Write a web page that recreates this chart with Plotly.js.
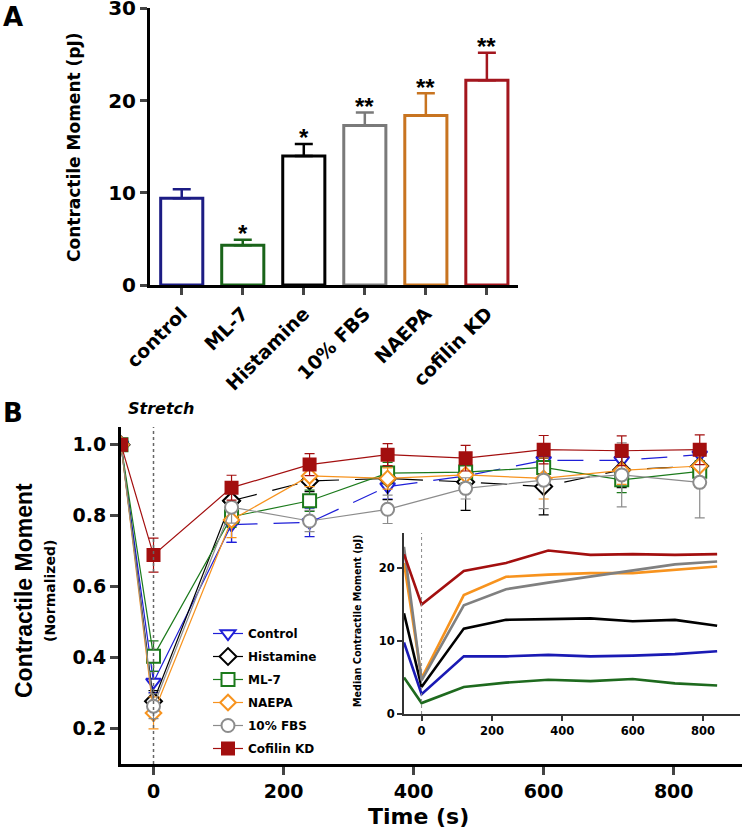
<!DOCTYPE html>
<html>
<head>
<meta charset="utf-8">
<script src="https://cdn.plot.ly/plotly-3.0.1.min.js"></script>
<style>
  html, body { margin: 0; padding: 0; background: #fff; }
  #chart { width: 742px; height: 835px; }
</style>
</head>
<body>
<div id="chart"></div>
<script>
// ---- Panel A: contractile moment per condition ----
const groupsA = ['control', 'ML-7', 'Histamine', '10% FBS', 'NAEPA', 'cofilin KD'];
const meansA = [9.4, 4.3, 14.0, 17.3, 18.4, 22.2];
const errA = [1.0, 0.6, 1.3, 1.4, 2.4, 3.0];
const starsA = ['', '*', '*', '**', '**', '**'];
const colorsA = ['#1c1c84', '#1a641a', '#000000', '#7a7a7a', '#c87420', '#a3161e'];

// ---- Panel B: normalized moment over time ----
const timesB = [-50, 0, 120, 240, 360, 480, 600, 720, 840];
const stretchTime = 0;
const namesB = ['Control', 'Histamine', 'ML-7', 'NAEPA', '10% FBS', 'Cofilin KD'];
const control = [1.0, 0.331, 0.775, 0.781, 0.882, 0.912, 0.956, 0.956, 0.972];
const controlErr = [0, 0.03, 0.05, 0.04, 0.035, 0.03, 0.03, 0.03, 0.03];
const histamine = [1.0, 0.277, 0.842, 0.898, 0.905, 0.895, 0.882, 0.929, 0.94];
const histamineErr = [0, 0.03, 0.04, 0.03, 0.06, 0.08, 0.08, 0.05, 0.04];
const ml7 = [1.0, 0.404, 0.797, 0.842, 0.92, 0.923, 0.936, 0.901, 0.925];
const ml7Err = [0, 0.043, 0.03, 0.03, 0.03, 0.03, 0.04, 0.036, 0.03];
const naepa = [1.0, 0.244, 0.788, 0.912, 0.905, 0.915, 0.905, 0.928, 0.94];
const naepaErr = [0, 0.045, 0.05, 0.03, 0.03, 0.03, 0.058, 0.04, 0.06];
const fbs = [1.0, 0.263, 0.824, 0.785, 0.818, 0.877, 0.90, 0.915, 0.894];
const fbsErr = [0, 0.035, 0.045, 0.03, 0.04, 0.03, 0.08, 0.09, 0.10];
const cofilin = [1.0, 0.689, 0.879, 0.944, 0.972, 0.962, 0.986, 0.983, 0.986];
const cofilinErr = [0, 0.048, 0.035, 0.031, 0.031, 0.036, 0.04, 0.042, 0.042];

// ---- Inset: median contractile moment (pJ) ----
const insetControl = [9.8, 2.7, 7.9, 7.9, 8.1, 7.9, 8.0, 8.2, 8.6];
const insetHistamine = [13.8, 3.7, 11.7, 12.9, 13.0, 13.1, 12.7, 12.9, 12.1];
const insetMl7 = [5.0, 1.5, 3.7, 4.3, 4.7, 4.5, 4.8, 4.2, 3.9];
const insetNaepa = [20.7, 4.9, 16.3, 18.8, 19.1, 19.3, 19.3, 19.7, 20.2];
const insetFbs = [22.9, 4.6, 14.9, 17.1, 18.0, 18.8, 19.7, 20.5, 20.9];
const insetCofilin = [21.9, 15.0, 19.6, 20.7, 22.4, 21.8, 21.9, 21.8, 21.9];

const W = 742, H = 835;
const px = v => v / W;
const py = v => 1 - v / H;
const FONT = 'DejaVu Sans, Verdana, sans-serif';
const FONT_NARROW = 'Liberation Sans, Arial, sans-serif';

const seriesB = [
  { y: control, err: controlErr, inset: insetControl, color: '#1f1fd8', lineInset: '#1a1ab4', symbol: 'triangle-down', fill: 'white', size: 13, dashed: true },
  { y: histamine, err: histamineErr, inset: insetHistamine, color: '#000000', lineInset: '#000000', symbol: 'diamond', fill: 'white', size: 13, dashed: true },
  { y: ml7, err: ml7Err, inset: insetMl7, color: '#1b7a1b', lineInset: '#1e6a1e', symbol: 'square', fill: 'white', size: 13, dashed: false },
  { y: naepa, err: naepaErr, inset: insetNaepa, color: '#f7931e', lineInset: '#f7931e', symbol: 'diamond', fill: 'white', size: 12, dashed: false },
  { y: fbs, err: fbsErr, inset: insetFbs, color: '#8c8c8c', lineInset: '#808080', symbol: 'circle', fill: 'white', size: 13, dashed: false },
  { y: cofilin, err: cofilinErr, inset: insetCofilin, color: '#a30f0f', lineInset: '#a30f0f', symbol: 'square', fill: '#a30f0f', size: 12, dashed: false }
];

const traces = [];

// panel A bars, one trace each so every error bar gets its colour
groupsA.forEach((g, i) => {
  traces.push({
    type: 'bar', x: [g], y: [meansA[i]], xaxis: 'x', yaxis: 'y',
    width: 0.69, showlegend: false, hoverinfo: 'x+y',
    marker: { color: 'white', line: { color: colorsA[i], width: 3 } },
    error_y: { type: 'data', symmetric: false, array: [errA[i]], arrayminus: [0],
               color: colorsA[i], thickness: 2.5, width: 9 }
  });
});

// inset lines
seriesB.forEach((s, i) => {
  traces.push({
    type: 'scatter', mode: 'lines', x: timesB, y: s.inset, xaxis: 'x3', yaxis: 'y3',
    line: { color: s.lineInset, width: 2.6 }, showlegend: false, hoverinfo: 'y'
  });
});

// panel B series
seriesB.forEach((s, i) => {
  const solidEnd = s.dashed ? 3 : timesB.length;
  const marker = { symbol: s.symbol, size: s.size, color: s.fill, line: { color: s.color, width: 2 } };
  traces.push({
    type: 'scatter', mode: 'lines+markers', name: namesB[i], legendgroup: namesB[i],
    x: timesB.slice(0, solidEnd), y: s.y.slice(0, solidEnd), xaxis: 'x2', yaxis: 'y2',
    line: { color: s.color, width: 1.2 }, marker: marker,
    error_y: { type: 'data', array: s.err.slice(0, solidEnd), color: s.color, thickness: 1.2, width: 5 }
  });
  if (s.dashed) {
    traces.push({
      type: 'scatter', mode: 'lines+markers', name: namesB[i], legendgroup: namesB[i], showlegend: false,
      x: timesB.slice(2), y: s.y.slice(2), xaxis: 'x2', yaxis: 'y2',
      line: { color: s.color, width: 1.2, dash: '26px,16px' }, marker: marker,
      error_y: { type: 'data', array: s.err.slice(2), color: s.color, thickness: 1.2, width: 5 }
    });
  }
});

const boldTick = size => ({ family: FONT, size: size, color: '#000', weight: 'bold' });

const annotations = [
  { text: 'A', x: px(1), y: py(17), xanchor: 'left', font: { family: FONT, size: 26, weight: 'bold' } },
  { text: 'B', x: px(1), y: py(413), xanchor: 'left', font: { family: FONT, size: 26, weight: 'bold' } },
  { text: 'Stretch', x: px(161), y: py(408), font: { family: FONT, size: 16, weight: 'bold', style: 'italic' } },
  { text: 'Contractile Moment (pJ)', x: px(74), y: py(147), textangle: -90, font: { family: FONT, size: 17, weight: 'bold' } },
  { text: 'Contractile Moment', x: px(24), y: py(591), textangle: -90, font: { family: FONT_NARROW, size: 23, weight: 'bold' } },
  { text: '(Normalized)', x: px(50), y: py(591), textangle: -90, font: { family: FONT, size: 14, weight: 'bold' } },
  { text: 'Time (s)', x: px(418), y: py(816), font: { family: FONT, size: 22, weight: 'bold' } },
  { text: 'Median Contractile Moment (pJ)', x: px(357), y: py(621), textangle: -90, font: { family: FONT, size: 9.6, weight: 'bold' } }
].map(a => Object.assign({ xref: 'paper', yref: 'paper', showarrow: false, yanchor: 'middle', xanchor: 'center' }, a));

groupsA.forEach((g, i) => {
  if (!starsA[i]) return;
  annotations.push({
    text: starsA[i], xref: 'x', yref: 'y', x: g, y: meansA[i] + errA[i],
    yanchor: 'middle', yshift: 6, showarrow: false,
    font: { family: FONT_NARROW, size: 24, weight: 'bold' }
  });
});

const axisBase = { showgrid: false, zeroline: false, ticklabeloverflow: 'allow', ticks: 'outside', showline: true };

const layout = {
  width: W, height: H,
  margin: { l: 0, r: 0, t: 0, b: 0 },
  paper_bgcolor: 'white', plot_bgcolor: 'rgba(0,0,0,0)',
  font: { family: FONT, color: '#000' },
  barmode: 'overlay',
  showlegend: true,
  legend: {
    x: px(208), y: py(619), xanchor: 'left', yanchor: 'top',
    bgcolor: 'rgba(0,0,0,0)', tracegroupgap: 4,
    font: { family: FONT, size: 12, weight: 'bold', color: '#000' }
  },
  xaxis: Object.assign({}, axisBase, {
    domain: [px(150), px(518)], anchor: 'y', type: 'category', range: [-0.52, 5.51],
    linewidth: 3, linecolor: '#000', ticklen: 7, tickwidth: 3,
    tickangle: -45, tickfont: boldTick(19)
  }),
  yaxis: Object.assign({}, axisBase, {
    domain: [py(285), py(8)], anchor: 'x', range: [0, 30.05], tickvals: [0, 10, 20, 30],
    linewidth: 3, linecolor: '#000', ticklen: 7, tickwidth: 3, tickfont: boldTick(20)
  }),
  xaxis2: Object.assign({}, axisBase, {
    domain: [px(121), 1], anchor: 'y2', range: [-50, 905], tickvals: [0, 200, 400, 600, 800],
    linewidth: 3, linecolor: '#000', ticklen: 8, tickwidth: 3, tickfont: boldTick(19)
  }),
  yaxis2: Object.assign({}, axisBase, {
    domain: [py(764), py(427)], anchor: 'x2', range: [0.1, 1.05],
    tickvals: [0.2, 0.4, 0.6, 0.8, 1.0], tickformat: '.1f',
    linewidth: 3, linecolor: '#000', ticklen: 8, tickwidth: 3, tickfont: boldTick(19)
  }),
  xaxis3: Object.assign({}, axisBase, {
    domain: [px(404), px(740)], anchor: 'y3', range: [-50, 905], tickvals: [0, 200, 400, 600, 800],
    linewidth: 2, linecolor: '#333', ticklen: 5, tickwidth: 2, tickcolor: '#333', tickfont: boldTick(11.5)
  }),
  yaxis3: Object.assign({}, axisBase, {
    domain: [py(714), py(533)], anchor: 'x3', range: [0, 24.8], tickvals: [0, 10, 20],
    linewidth: 2, linecolor: '#333', ticklen: 5, tickwidth: 2, tickcolor: '#333', tickfont: boldTick(11.5)
  }),
  shapes: [
    { type: 'line', xref: 'x2', yref: 'y2 domain', x0: stretchTime, x1: stretchTime, y0: 0, y1: 1,
      line: { color: '#666', width: 1.5, dash: 'dot' } },
    { type: 'line', xref: 'x3', yref: 'y3 domain', x0: stretchTime, x1: stretchTime, y0: 0, y1: 1,
      line: { color: '#888', width: 1, dash: 'dot' } }
  ],
  annotations: annotations
};

Plotly.newPlot('chart', traces, layout, { displayModeBar: false, staticPlot: true });
</script>
</body>
</html>
